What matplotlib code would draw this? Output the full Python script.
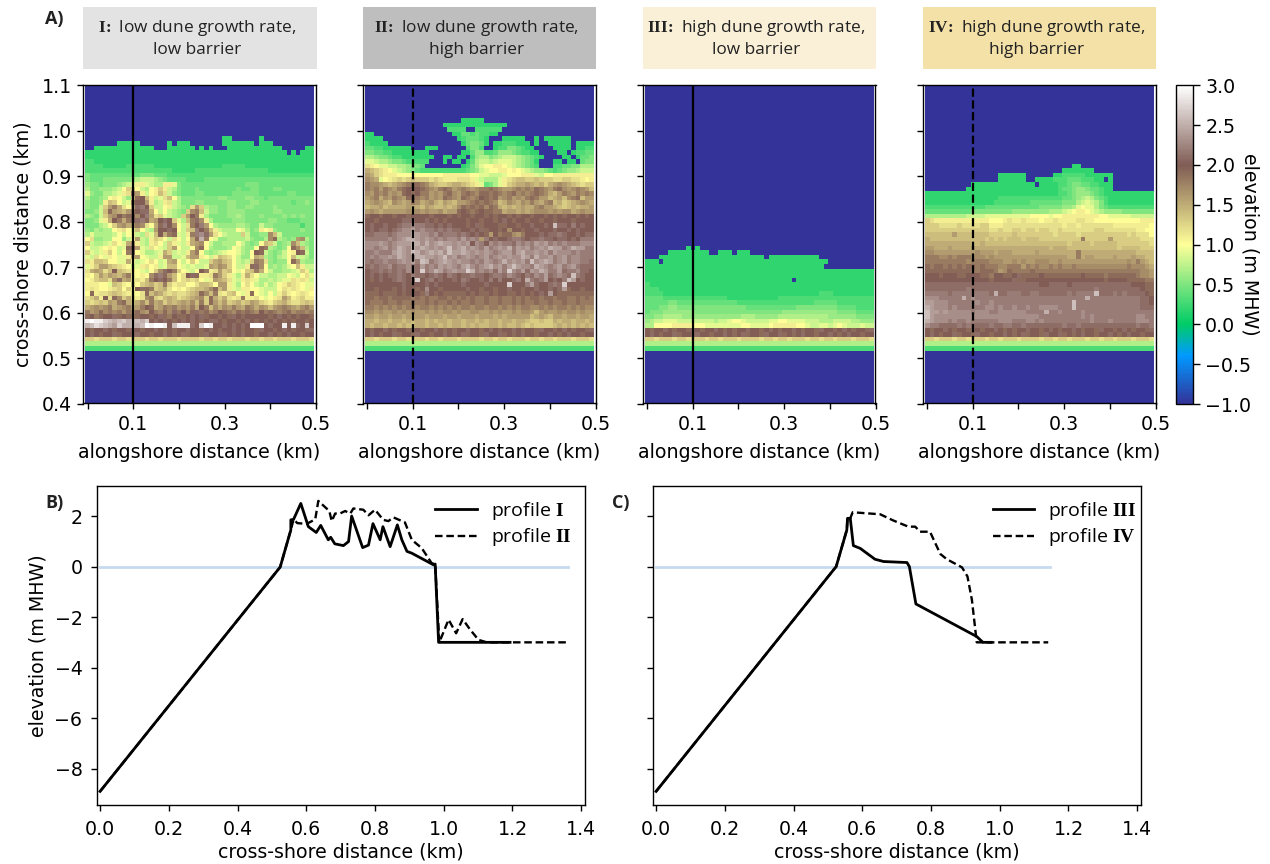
import numpy as np
import matplotlib
matplotlib.use("Agg")
import matplotlib.pyplot as plt
from matplotlib.patches import Rectangle
from matplotlib.lines import Line2D

plt.rcParams['mathtext.fontset'] = 'custom'
plt.rcParams['mathtext.bf'] = 'Liberation Serif:bold'
plt.rcParams['mathtext.rm'] = 'Open Sans'
plt.rcParams['axes.linewidth'] = 1.0

W, H = 1270, 864
FS = 13.7
CODE = "0123456789ABCDEFGHIJKLMNOPQRSTU"  # 0.0 .. 3.0 in 0.1 steps, '.' = -1

# Elevation rows, top row first; the last row of each list is y = 0.57 km
panel_I = [
"..............................22......2...........",
".......22222......2.222.......2222222.222.........",
"..2222222222222...222222.2.2...222222222222.....222",
"22222222222222222222222222222222222222222222.2.22222"[:50],
"22222222222222222222222222222222222222222222222222",
"33222222222222222222222222222222222222222222222222",
"33332222233333322222222222222233333222222222222222",
"33333333333333333332222233333333333333332222222222",
"54444444444455544433333333333333333333333333333333",
"54445555556788876544443333444444444444444444444444",
"65545556789BB9877BB9544444444444444555444444444444",
"75566678ADDA87ABDB87544454444444454455444554444444",
"96557789BCIGB8ABEC86544455444444555555444444554444",
"75567ABA86EJKEB89CEA755555555665555665545555555555",
"6556BEDA89IKKGB78BC8755566555556655566555555545565",
"6558DGIFCAFLMKD88AB8765CGD7665566556655556555555",
"5568EJGFEGIKLLFA8A8765DHIE86655666655555566555555",
"7658DGHKIJKHKMGCD9876DGKIB755556676555655556565655",
"5569BFKIFIKLMJFGKLKD97EILHB7555566655555665544455",
"55578ADGHFGIHCAFJMKHA8CIKMGA76666776558665555553555",
"657677ABCA9EA87GKKLKA8DEMKIEB8777A9756BAB655555655",
"7977778A8AA87C9EKFIJ98BIMNLGCA8777D85566HE85555555",
"AC6677AA68AG87BDCA8CA8AFJPIA966777786557HJ7656GH75",
"D87789CA9FHB87BCA8DB98BFGHA866777A8656AED8567HE765",
"A889ABA89JKG98CA98DGA88AHJA76667A9766AJI7656AJHE75",
"D989BDA8AILA97789FD898BGIA76789AA976AKJ86568ABKJ85",
"98CA9BA99BFGA988BGG889EGGBA8BEDCA866AFE76578AE8875",
"CBEEDAA99FA89ACA89FGA8ADA88DFGEDA878DIHC6566AJG76",
"9BDGGEDCBA89BCAB89EEA989889GFHGDA88BJLHA67679AEB8",
"CFGFCEKEDCBA98ADHLKIDA98AKIBCGDEA9ADEIFA8667789DB7",
"BADGEGFEGIBABAHLMJGEACKLJBBCIGDB97BFCA887788A98AC9",
"ABDEECHLFGBCBEIKLKIEACDCDA9BGFEC98BCB97787899CBCB8",
"BBBAA9EDBADADEFDEIDBCCAACEEDAGGB97ACA87978ABDCBA99",
"BCBAABCDADAKLJIDEFCABACDEEFHJEGB98BBAA9888ACBCBA9B",
"AJBCCDEDCBBACJEGFDCDCCDEFJHEICBDEA9BJA98A8BDBABCBA",
"CDFBKCJHDFCBCHIDCEFECDEFGHDJFDFCBCIBBCA9ABCGEBCDBB",
"DCDEDGFIJFDFHEIFGDFEFGFHEIDJGEGDEFDEGFDCBDEFDCCDED",
"FGHGHIFGHIFGIKJFGIHIGHGIFKIEHFHGIGFIHFHGEGHIHGFHIG",
"IGHJHIHIGIHJHGKIHJHLIKHJLIJHIKJIHJIJIHKIJIHIJHIIHI",
"JKIJKKLJKJIJKKJKLJIKJJKLKLJKKJKJLKJKKKKKJKLKJKJKKJ",
"TUTTRQPQRPQQPRKLKLKJKLKLKJKLLKJKKJKLKJKJKLKJKJKKJK",
"PQSRQPORPPQPQUTUUTKQTTTLKRUTKKLKLKLKUUUKLKKTKTLKRK",
]
panel_II = [
".....................22222.........................",
".................22222222222222....................",
"..................3333..333333.....................",
"22.................2244343322......................",
"2222................2344432...22222..2.222222......",
"32222................245542.22333222.2..22222.2222",
"4433222222...222......3553..233554322....2222.2233",
"55443322222222.......224663346665433 22....22.23344".replace(" ",""),
"77655433222222 2..22.22.3677567888765432....22.24455".replace(" ",""),
"9987765543 3333...2.22.24788789998765 42...22.22.455".replace(" ",""),
"CBA9988776554........2357 9AABBA9876543...3344557775".replace(" ",""),
"FEDCBA98765433333333334568 9AABBABA98766543 45667888".replace(" ",""),
"GFDCBBBAAAAAAAAAABBBBBBAA9 98889AAABBB9 8AABBBBBBBB".replace(" ",""),
"HGF9ABCDCDEDDDCDCBBBCCCB9877 79BCDEEDDEDD DCCDDCCBAB".replace(" ",""),
"IHHGFEFGHIJJIHFEDDEFFEDCB9 4579BDEFFGFEFDFGHGFEDCDD".replace(" ",""),
"IHIGIHGIJKKKJIHGIJIGHIHGHIIJIHGGHIHIHJIHGIJHGHIHGE",
"HGIHIGHGJKJKIIGHGIJHGIJIHJJIJIHIJHIHIJIHFEGIHGIHIH",
"GHIFHGIHGJKIHIGHGJIHGJIHIKJIJGHIGHGIJIGGEFGEHIJEGG",
"FGHGFEHGFGIHFGHFEGFEGGHIJIJIHEFHGFHGIGFHIEFDEFGHGF",
"EFFGEFFFFGFFEGFEEFEFHJIJIJHJIFEFEFGFFHIGGFEDEFEFFG",
"GHGFGGGGGHGHGHGGHFGGJKJIJKJJIIFGGFGFGHHHGHGHHFGHGG",
"JKKJKKJKKJKKKKJKKKJKJKKJKKJKJKKJKJKKJKKJKJKJKKJKJK",
"KKJKKKKKLLLKKLKJKJKKKKJKKJKKJKLKJKKJKKJKKJKKKJKKKK",
"KLKKLKKLMMNMMLLKLKLKKKJKLJKKKJJKKJKKLKKLKQLLKMKLKK",
"KLKLLKLMNNOMNMMLMLMLLKKLKLJKKJKHKKJKKLKKKLKKLKLKKK",
"LLMMMLMNNNPONNMNLMMMLMLKLKJGKIJJHGIKKKLKLLMLKKLKLL",
"MMMMMNMNOPPONONMNMNNMOMNMGMKLKKLMMLKLLMLLKLLKLKMMM",
"NNNONMNOOOQPNPNOPOONONOKNMKNMNMMLNMNMONOMNMNMMMNNN",
"NNMNOMNPONQOPONONOQNOPNONMOMNONPMONOMNONPOOMNPOOMM",
"MMNMMMOPONQPNOPOPNQOOPONONONMNOOMOPNNONOMONNNMNMMM",
"MNMNNONPONNPPOONOQNOMNONMNOMNONONNPOMPNNOMNOMNNMMM",
"MLMMNMMNONOMQPMNOPONONNMNMONMNPNONOMQNOPOMNOMNNMML",
"LMLMMNLMMNMLOMNMONONMOPNMNOPNOMOQONNMPONMNOMNOMLLL",
"KLLMLMLMLNMLRMNPOMNONNRPMNMNLOMRNMOLONPOMMOLMMNLLK",
"KLKLKLLMLKMLLKLMLKMLKLLMLLKLMMLNMLKMLNMOLMNMLQMLKK",
"KJKLKKLMLKLRKLMKLKKLKMLKKLKMKMKKLMKPMLMOKLKMQOKLKK",
"KKKKKKKKLKKKKLKLKKKKKLKKKKLKKKKRKKKMOLKKLMLRKKKKKK",
"KKJKKKJKLKKJKNKKJKKKKKLKKJKKJKKLKKJKKLKKLKLOJKKJKK",
"JJJKJJJKJKKKJMKJKJJJJJKJKJJKJKKJJKJKJKLKOKJJJJJJJJ",
"JJIJJIJJJJIJIJIIJJIJIJIJIIJIIJIIJIJIJJIJJIJJIIJIJI",
"JIIIJIIJIIJIIJIJIIJIJIIJIIJIIJIIJIJIIJIIJIIJIIJIII",
"IIHIHIHIHIIHIIHIHIHIHIIHIIHIIHIHIHIIHHIHIHIIHIHIHH",
"HHGHGGHGHGHGGHGHGHHGHGGHHGGHGHGGHGHHGEGHGGHGHHGHGG",
"GGFGGFGGFGFGGFGGGFGGFGGGFGGGFGFGGGGGEFGFEGGFGGFGGF",
"FFEFFEFFEFEFFEFEFFEFFEFFEFEFFEFFEFFEDDEDDFEFFEFFEF",
"FEFFEFFEFEEFFEFFEFEFFEFEFEEFFEFEEFEDEDDDDEFEFEFEFE",
]
panel_III = [
".........2.2......................................",
".....222222222..222.222...........................",
"...22222222222222222222222.22222222222............",
"222.222222222222222222222222222222222222..........",
"222222222222222222222222222222222222222...........",
"22222222222222222222222222222222222222222222222222",
"22222222222222222222222222222222222222222222222222",
"22222222222222222222222222222222.22222222222222222",
"32222222222222222222222222222222222222222222222222",
"33322222222222222222222222222222222222222222222222",
"33332222222222222222222222222222222222333222222222",
"44443333333333333322222222222333333333333333333333",
"44444554444444444444333333333333333334444433333333",
"44455665555555555555554444444444455555555544443333",
"45556666666555555555555555555566666666666655554444",
"55667777666666666666677766666777777777776666665555",
"6788999888888887889AA98888899AA9999888777888877666",
"77AAAABBBBAAA99999999AA9999ABBBBBAA9889989A9888988",
]
panel_IV = [
"................................22................",
"..............................2222222.............",
"................222222......2233333222222.........",
"................222222..222233344433322.2.........",
"..........22222222222222.2222334554433222.........",
".........22222222222222222222344566544322.........",
"22222222222222222222222222222334566654322222222222",
"22222222222222223333333333333344567875432222222222",
"22222222222222233333333444444455578987532222222222",
"3333333333333444444444444555556679A997543333333333",
"44444444445555555556666666677789ABBA98766665555555",
"77777777788889999999999AAAA9AABBBBBBBBAA9999988888",
"DCBBBBBBBBBBBBAAABCBBCBBBABBCBBBBCCBBAAAAAAAAAABBB",
"DDDCCCCDCCCCDDBBBCCCCCCCCCCCCCBCCBCCCCCCCBBBBBBBBA",
"DDDDDDDDDDDDDDCCDCCDDCDDCDDCCDCCCCCCCDDCCCCCCCBBAA",
"EEEEEEGEEEEEEEDDDDDEDDDDDDDDCDDDDCDDDDDDDDDDCDCCCA",
"FEEEEEEEEEEEEDEDEDEEEDEEEDDDDDDDDDIDDDDDGDDDDDDCCC",
"FFFFFFFFFFEEFEEEEEEEEEEEEEEEEEEDEEEEDEEEEEDDDDDDDC",
"GGFFFGFFFFGFFFFFFFFFFFFFFFFEFFFEEEEEEEEEEEDEEEEDDD",
"HHGGGGGGGGGHGGGFGGGFFFFFGFFFFFFFFIFFFFFFFFFFFFEEEE",
"IIIHHIHIIIHHHGHGGGGGGGGGGGGGGGGFFIFGGFFFFGFFFGFFEE",
"IIIIIIIIIHIIIIHHHGGHGHGGHHHGGHGGGGGGGGGGGGGGHGIGFE",
"JIJJIJIJIJJIJIIIHHIIIGIHIHHIHIHHIHHHHHHHHHHHIHHHGF",
"JJJJJJJJJJIIJJJIGHJIIIIJIIIIIIIIIIIIIIIIIIIIIIIHHG",
"KKKJKKKJJKKKJJIKKJJKLJJJJKJJJJJJJJKJJJJIJJJJJJIHHG",
"KKKKKKKKKKKKKKJKKKKLJJKKKKKKKKKKKKKKKKKJKKKKJJJJII",
"LLLLLLLLLLLLLLLLLLLLLLLLLKKLLLLKLLLLLLLLLLLLLKKKJJ",
"LLLLLLLLLMLLLLLLLLLLLLLLLLLLLLLLLLLLLMLLLLLLLLLKJJ",
"MMMMMLMMMMMMMMLPLLMMMLLMMLLLLLLMLMMMMQLLLMLMLLLLKJ",
"NNNMMMMMPMNMMMMMMMMMMMMMMMMMMMMMMMMPMMMMMMMMMMMLLK",
"OONNNMMMMMMNMMNMMMMMMMMMMMMMMMMMQMMMMMMMMMMMMMMLLK",
"PONNNMNMMMMMMNNMNMMNMMNMMNNNNMMMQMMMMMMMMMMMMMMLLL",
"QOONONNNNNMNNNMMNNNNNNMMMMPMMNMMMMNMMMMMMMMMMMMMMM",
"QONNNNNNNNNNNNNNNNNNNNNNNMMMMMMMMMNMNMMMMMMMMMNNMM",
"PONNNMNMMNMMMMMMNNNMMMNNMNMMMMMMMMMMNMMMNMMMMMNNNM",
"NMMLLLLMLMLLLLMLLMMLLMLLLLLLLLMLLMLLLLLLLLLLLLMLLM",
]
row_056 = "KJKKLKJKKJLKJKKLKJKJKKLKKJKLKJKKLKJKKJLKKJKLKJKKJL"
row_055 = "KLKJKKLJKKJLKKJKKLKJKLJKKJLKKLJKJKLKKJKKLKJKLKKJKK"
row_054 = "DDCDDDCDDCDDDCDDCDDDCDDDDCDDCDDCDDDCDDCDDCDDDCDDDC"
row_053 = "77777777777777777777777777777777777777777777777777"
row_052 = "33333333333333333333333333333333333333333333333333"

panels = [panel_I, panel_II, panel_III, panel_IV]
panel_heads = [r"$\mathbf{I}\!\mathbf{{:}}$ low dune growth rate," + "\nlow barrier",
               r"$\mathbf{II}\!\mathbf{{:}}$ low dune growth rate," + "\nhigh barrier",
               r"$\mathbf{III}\!\mathbf{{:}}$ high dune growth rate," + "\nlow barrier",
               r"$\mathbf{IV}\!\mathbf{{:}}$ high dune growth rate," + "\nhigh barrier"]
head_colors = ["#e3e3e3", "#bebebe", "#faf0d8", "#f4e1a8"]
panel_lines = ["-", "--", "-", "--"]
panel_left = [83, 362.5, 642.5, 922.5]

x_I = [0.0, 0.524, 0.555, 0.555, 0.563, 0.584, 0.606, 0.629, 0.642, 0.664, 0.671, 0.683, 0.708, 0.723, 0.732,
       0.764, 0.781, 0.794, 0.815, 0.823, 0.844, 0.865, 0.878, 0.893, 0.907, 0.970, 0.975, 0.985, 1.193]
y_I = [-8.9, -0.02, 1.45, 1.85, 1.87, 2.5, 1.58, 1.35, 1.63, 1.06, 1.16, 0.9, 0.83, 0.99, 2.0,
       0.75, 0.85, 1.7, 1.06, 1.58, 0.79, 1.65, 1.06, 0.6, 0.53, 0.07, 0.1, -3.0, -3.0]
x_II = [0.0, 0.524, 0.555, 0.563, 0.574, 0.601, 0.626, 0.635, 0.667, 0.674, 0.684, 0.698, 0.713, 0.728, 0.737,
        0.766, 0.781, 0.800, 0.824, 0.839, 0.853, 0.887, 0.907, 0.936, 0.965, 0.975, 0.987, 0.994, 1.014,
        1.036, 1.055, 1.077, 1.101, 1.125, 1.362]
y_II = [-8.9, -0.02, 1.45, 1.87, 1.72, 1.69, 1.87, 2.6, 2.2, 1.8, 2.1, 2.1, 2.2, 2.1, 2.3,
        2.25, 2.03, 2.25, 1.85, 1.8, 1.95, 1.75, 1.06, 0.73, 0.13, 0.1, -3.0, -2.77, -2.1,
        -2.64, -2.08, -2.5, -2.9, -3.0, -3.0]
x_III = [0.0, 0.524, 0.555, 0.557, 0.565, 0.574, 0.594, 0.637, 0.662, 0.730, 0.737, 0.756, 0.933, 0.951, 0.975]
y_III = [-8.9, 0.0, 1.45, 1.91, 1.91, 0.83, 0.72, 0.29, 0.2, 0.16, 0.0, -1.48, -2.77, -3.0, -3.0]
x_IV = [0.0, 0.524, 0.555, 0.557, 0.565, 0.572, 0.652, 0.691, 0.734, 0.754, 0.768, 0.797, 0.827, 0.846, 0.890,
        0.906, 0.919, 0.933, 0.951, 1.141]
y_IV = [-8.9, 0.0, 1.45, 1.91, 1.91, 2.15, 2.07, 1.82, 1.58, 1.58, 1.38, 1.38, 0.5, 0.29, -0.03,
        -0.39, -1.32, -3.0, -3.0, -3.0]
mhw_x_B = [0.0, 1.362]
mhw_x_C = [0.0, 1.147]


def decode(rows):
    cells = -np.ones((71, 50))
    fixed = {52: row_052, 53: row_053, 54: row_054, 55: row_055, 56: row_056}
    allrows = {57 + len(rows) - 1 - i: r for i, r in enumerate(rows)}
    allrows.update(fixed)
    for k, r in allrows.items():
        fill = "." if "." in r else r[-1]
        r = r.ljust(50, fill)[:50]
        cells[k - 40] = [-1.0 if c == "." else CODE.index(c) / 10 for c in r]
    return cells


fig = plt.figure(figsize=(W / 100, H / 100), dpi=100)


def add_axes(l, t, r, b):
    return fig.add_axes([l / W, 1 - b / H, (r - l) / W, (b - t) / H])


im = None
for i, rows in enumerate(panels):
    l = panel_left[i]
    ax = add_axes(l, 85.3, l + 233, 403.5)
    im = ax.imshow(decode(rows), origin="lower", cmap="terrain", vmin=-1, vmax=3, aspect="auto",
                   extent=(-0.005, 0.495, 0.395, 1.105), interpolation="nearest")
    ax.set_xlim(-0.01, 0.5)
    ax.set_ylim(0.4, 1.1)
    ax.axvline(0.1, color="black", lw=1.6, ls=panel_lines[i])
    ax.set_xticks([0, 0.1, 0.2, 0.3, 0.4, 0.5])
    ax.set_xticklabels(["", "0.1", "", "0.3", "", "0.5"])
    ax.set_yticks(np.round(np.arange(0.4, 1.11, 0.1), 1))
    if i == 0:
        ax.set_ylabel("cross-shore distance (km)", fontsize=FS, labelpad=6.5)
    else:
        ax.set_yticklabels([])
    ax.set_xlabel("alongshore distance (km)", fontsize=FS, labelpad=7)
    ax.tick_params(labelsize=FS, length=4.5, width=1, pad=3.5)
    fig.add_artist(Rectangle((l / W, 1 - 69 / H), 233.5 / W, 62 / H, transform=fig.transFigure,
                             facecolor=head_colors[i], edgecolor="none"))
    fig.text((l + 114) / W, 1 - 38 / H, panel_heads[i], ha="center", va="center",
             fontsize=12.4, family="Open Sans", color="#222222", linespacing=1.25)

cax = add_axes(1175.7, 85.3, 1192.7, 404)
cb = fig.colorbar(im, cax=cax)
cb.set_ticks(np.arange(-1, 3.01, 0.5))
cb.ax.tick_params(labelsize=FS, length=5, width=1, pad=4)
cb.set_label("elevation (m MHW)", rotation=270, fontsize=FS, labelpad=6)

axB = add_axes(97, 486, 585, 805)
axC = add_axes(653, 486, 1141, 805)
for ax, xa, ya, xb, yb, mx, la, lb in [
    (axB, x_I, y_I, x_II, y_II, mhw_x_B, r"profile $\mathbf{I}$", r"profile $\mathbf{II}$"),
    (axC, x_III, y_III, x_IV, y_IV, mhw_x_C, r"profile $\mathbf{III}$", r"profile $\mathbf{IV}$"),
]:
    ax.plot(mx, [0, 0], color="#c6d9ee", lw=2)
    ax.plot(xb, yb, color="black", lw=1.7, ls="--", dashes=(3.2, 1.6))
    ax.plot(xa, ya, color="black", lw=2)
    ax.set_xlim(-0.009, 1.411)
    ax.set_ylim(-9.44, 3.19)
    ax.set_xticks(np.round(np.arange(0, 1.41, 0.2), 1))
    ax.set_yticks([-8, -6, -4, -2, 0, 2])
    ax.set_xlabel("cross-shore distance (km)", fontsize=FS, labelpad=3)
    ax.tick_params(labelsize=FS, length=4.5, width=1, pad=6)
    handles = [Line2D([], [], color="black", lw=2), Line2D([], [], color="black", lw=1.7, ls="--", dashes=(3.2, 1.6))]
    ax.legend(handles, [la, lb], frameon=False, loc="upper left", bbox_to_anchor=(0.677 if ax is axB else 0.68, 0.98),
              prop={"family": "Open Sans", "size": 14}, handlelength=2.15, labelspacing=0.22, handletextpad=0.7,
              borderaxespad=0)
axB.set_ylabel("elevation (m MHW)", fontsize=FS, labelpad=5)
axC.set_yticklabels([])

for txt, px, py in [("A)", 45, 19), ("B)", 45, 503), ("C)", 612, 503)]:
    fig.text(px / W, 1 - py / H, txt, fontsize=13, fontweight="bold", family="Open Sans", va="center", color="#222222")

fig.savefig("out.png", dpi=100)
for p in panels:
    print(len(p), [len(r) for r in p if len(r) != 50])
